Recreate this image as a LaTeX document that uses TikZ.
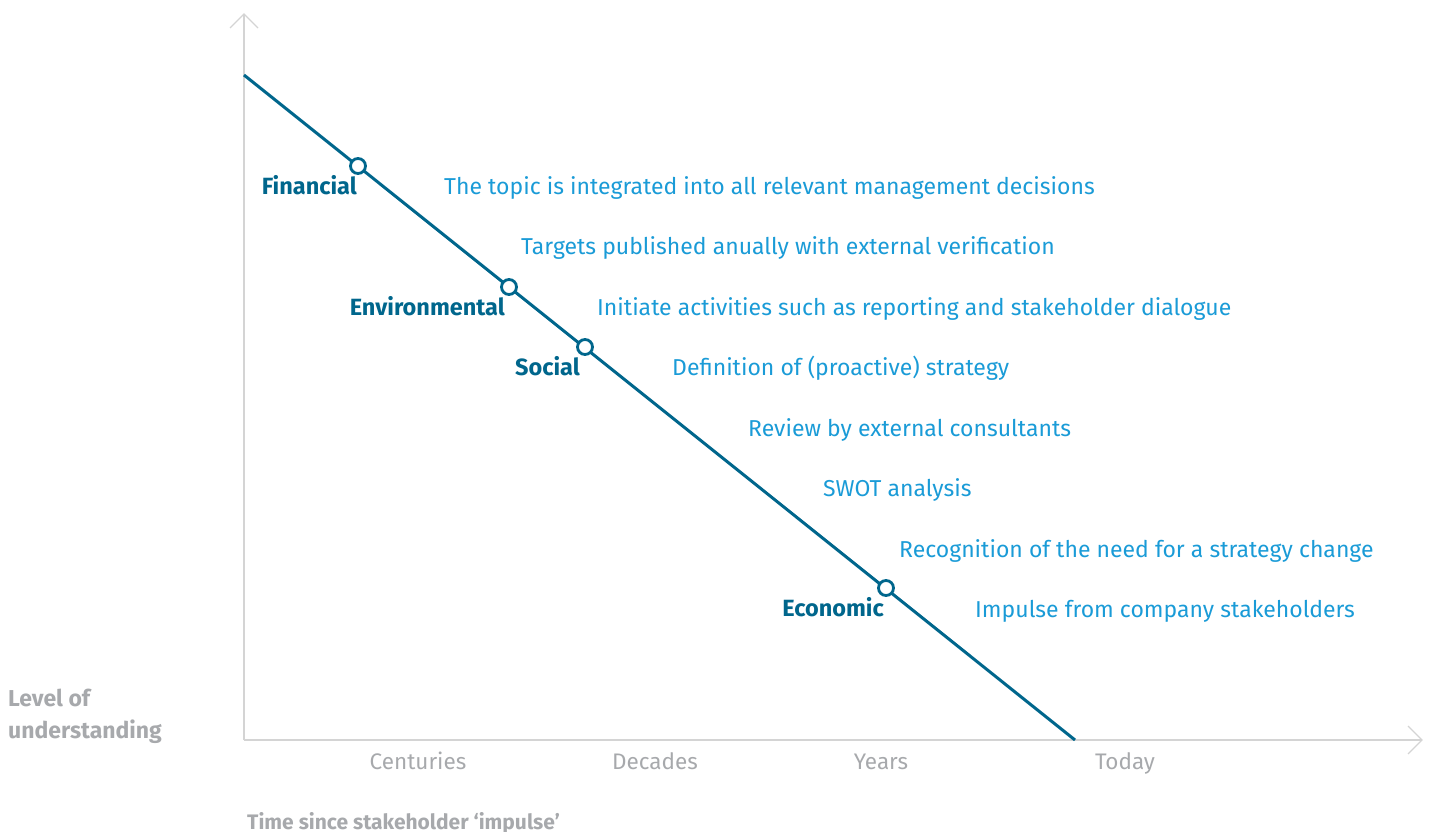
\documentclass[tikz,border=0pt]{standalone}
\usepackage{fontspec}
\setmainfont{Fira Sans}
\definecolor{axisgray}{HTML}{D4D4D4}
\definecolor{labgray}{HTML}{A7A9AC}
\definecolor{darkblue}{HTML}{00668C}
\definecolor{lightblue}{HTML}{1A9BD7}
\begin{document}
\begin{tikzpicture}[x=1pt,y=-1pt,
  axis/.style={draw=axisgray, line width=1.3pt},
  mainline/.style={draw=darkblue, line width=3pt},
  dot/.style={circle, draw=darkblue, fill=white, line width=2.8pt, minimum size=15pt, inner sep=0pt},
  cat/.style={font=\fontsize{23.5}{28}\selectfont\bfseries, text=darkblue, inner sep=0pt},
  stepl/.style={font=\fontsize{23}{28}\selectfont, text=lightblue, inner sep=0pt, anchor=base west},
  tick/.style={font=\fontsize{22.5}{27}\selectfont, text=labgray, inner sep=0pt, anchor=base},
  title/.style={font=\fontsize{23}{32}\selectfont\bfseries, text=labgray, inner sep=0pt},
]
\useasboundingbox (0,0) rectangle (1437,832);
% axes
\coordinate (O) at (244,740);
\coordinate (Ytop) at (244,14);
\coordinate (Xend) at (1422,740);
\draw[axis] (O) -- (Ytop);
\draw[axis] (230,28) -- (Ytop) -- (258,28);
\draw[axis] (O) -- (Xend);
\draw[axis] (1408,726) -- (Xend) -- (1408,754);
% main line
\coordinate (L0) at (244,75);
\coordinate (L1) at (1075,740);
\draw[mainline] (L0) -- (L1);
\node[dot] (fin) at (358,166) {};
\node[dot] (env) at (509,287) {};
\node[dot] (soc) at (585,347) {};
\node[dot] (eco) at (886,588) {};
% category labels
\node[cat, anchor=base east] (finl) at (357,194) {Financial};
\node[cat, anchor=base east] (envl) at (505,315) {Environmental};
\node[cat, anchor=base east] (socl) at (580,375) {Social};
\node[cat, anchor=base east] (ecol) at (884,616) {Economic};
% steps
\node[stepl] (s1) at (444,194) {The topic is integrated into all relevant management decisions};
\node[stepl] (s2) at (521,254) {Targets published anually with external verification};
\node[stepl] (s3) at (597,315) {Initiate activities such as reporting and stakeholder dialogue};
\node[stepl] (s4) at (672,375) {Definition of (proactive) strategy};
\node[stepl] (s5) at (748,436) {Review by external consultants};
\node[stepl] (s6) at (823,496) {SWOT analysis};
\node[stepl] (s7) at (899,557) {Recognition of the need for a strategy change};
\node[stepl] (s8) at (975,617) {Impulse from company stakeholders};
% ticks
\node[tick] (t1) at (418,769) {Centuries};
\node[tick] (t2) at (655,769) {Decades};
\node[tick] (t3) at (881,769) {Years};
\node[tick] (t4) at (1125,769) {Today};
% titles
\node[title, anchor=base west, align=left] (ylab) at (8,706) {Level of};
\node[title, anchor=base west, align=left] (ylab2) at (8,738) {understanding};
\node[title, font=\fontsize{21}{29}\selectfont\bfseries, anchor=base west] (xlab) at (247,829) {Time since stakeholder ‘impulse’};
\end{tikzpicture}
\end{document}
